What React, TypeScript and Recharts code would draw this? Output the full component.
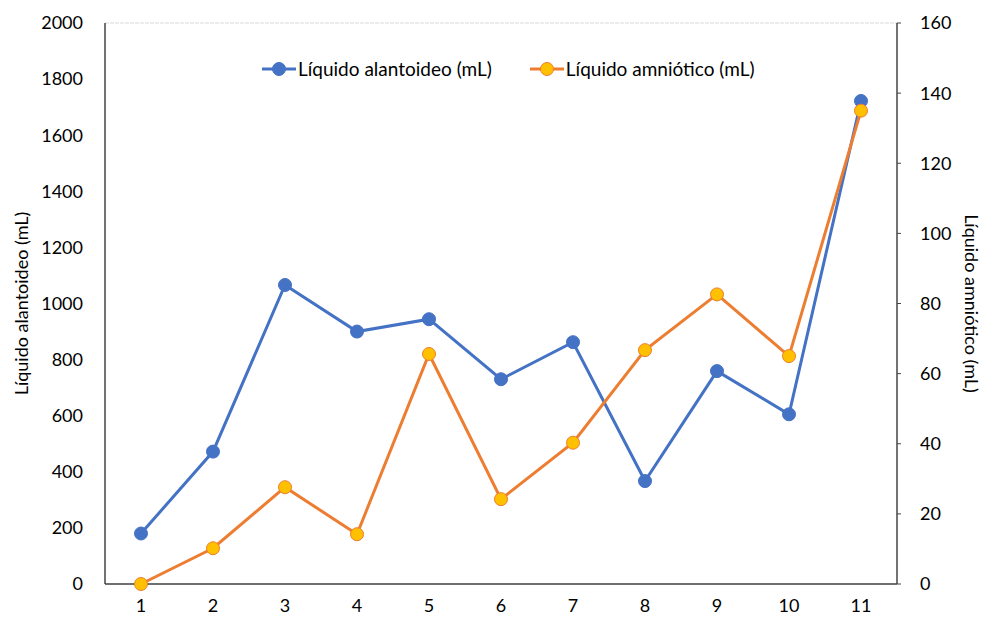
import { LineChart, Line, XAxis, YAxis, CartesianGrid } from 'recharts';

const categories = ['1', '2', '3', '4', '5', '6', '7', '8', '9', '10', '11'];
const alantoideo = [180, 472, 1066, 900, 944, 730, 862, 367, 759, 605, 1722];
const amniotico = [0, 10.2, 27.6, 14.2, 65.6, 24.2, 40.3, 66.7, 82.6, 65, 135];
const leftTicks = [0, 200, 400, 600, 800, 1000, 1200, 1400, 1600, 1800, 2000];
const rightTicks = [0, 20, 40, 60, 80, 100, 120, 140, 160];

const BLUE = '#4472C4';
const ORANGE = '#ED7D31';
const GOLD = '#FFC000';
const FONT = 'Lato, "Open Sans", sans-serif';

const data = categories.map((c, i) => ({
  name: c,
  alantoideo: alantoideo[i],
  amniotico: amniotico[i],
}));

const LegendIcon = ({ line, fill }: { line: string; fill: string }) => (
  <svg width={34} height={16} style={{ marginRight: 2 }}>
    <line x1={0} y1={8} x2={34} y2={8} stroke={line} strokeWidth={3} />
    <circle cx={17} cy={8} r={6.5} fill={fill} stroke={line} strokeWidth={1} />
  </svg>
);

const ChartLegend = () => (
  <div
    style={{
      position: 'absolute',
      top: 57,
      left: 262,
      display: 'flex',
      alignItems: 'center',
      fontFamily: FONT,
      fontSize: 19,
      color: '#000',
    }}
  >
    <span style={{ display: 'flex', alignItems: 'center', marginRight: 38 }}>
      <LegendIcon line={BLUE} fill={BLUE} />
      Líquido alantoideo (mL)
    </span>
    <span style={{ display: 'flex', alignItems: 'center' }}>
      <LegendIcon line={ORANGE} fill={GOLD} />
      Líquido amniótico (mL)
    </span>
  </div>
);

export default function App() {
  return (
    <div style={{ position: 'fixed', left: 0, top: 0, width: 983, height: 623, background: '#fff' }}>
      <LineChart width={983} height={623} data={data} margin={{ top: 23, right: 30, bottom: 0, left: 40 }}>
        <CartesianGrid vertical={false} stroke="#d9d9d9" strokeDasharray="4 1" />
        <XAxis
          dataKey="name"
          height={39}
          padding={{ left: 36, right: 36 }}
          tickLine={false}
          tickSize={0}
          tickMargin={15}
          axisLine={{ stroke: '#444', strokeWidth: 1.5 }}
          tick={{ fill: '#000', fontSize: 18, fontFamily: FONT }}
        />
        <YAxis
          yAxisId="left"
          width={65}
          domain={[0, 2000]}
          ticks={leftTicks}
          interval={0}
          tickLine={false}
          tickSize={0}
          tickMargin={22}
          axisLine={{ stroke: '#444', strokeWidth: 1.5 }}
          tick={{ fill: '#000', fontSize: 18, fontFamily: FONT }}
          label={{
            value: 'Líquido alantoideo (mL)',
            angle: -90,
            position: 'insideLeft',
            offset: -18,
            style: { textAnchor: 'middle', fill: '#000', fontSize: 18, fontFamily: FONT },
          }}
        />
        <YAxis
          yAxisId="right"
          orientation="right"
          width={56}
          domain={[0, 160]}
          ticks={rightTicks}
          interval={0}
          tickSize={4}
          tickMargin={19}
          tickLine={{ stroke: '#444' }}
          axisLine={{ stroke: '#444', strokeWidth: 1.5 }}
          tick={{ fill: '#000', fontSize: 18, fontFamily: FONT }}
          label={{
            value: 'Líquido amniótico (mL)',
            angle: 90,
            position: 'insideRight',
            offset: -18,
            style: { textAnchor: 'middle', fill: '#000', fontSize: 18, fontFamily: FONT },
          }}
        />
        <Line
          yAxisId="left"
          dataKey="alantoideo"
          name="Líquido alantoideo (mL)"
          stroke={BLUE}
          strokeWidth={3}
          dot={{ r: 6.5, fill: BLUE, stroke: BLUE, strokeWidth: 1 }}
          isAnimationActive={false}
        />
        <Line
          yAxisId="right"
          dataKey="amniotico"
          name="Líquido amniótico (mL)"
          stroke={ORANGE}
          strokeWidth={3}
          dot={{ r: 6.5, fill: GOLD, stroke: ORANGE, strokeWidth: 1 }}
          isAnimationActive={false}
        />
      </LineChart>
      <ChartLegend />
    </div>
  );
}
